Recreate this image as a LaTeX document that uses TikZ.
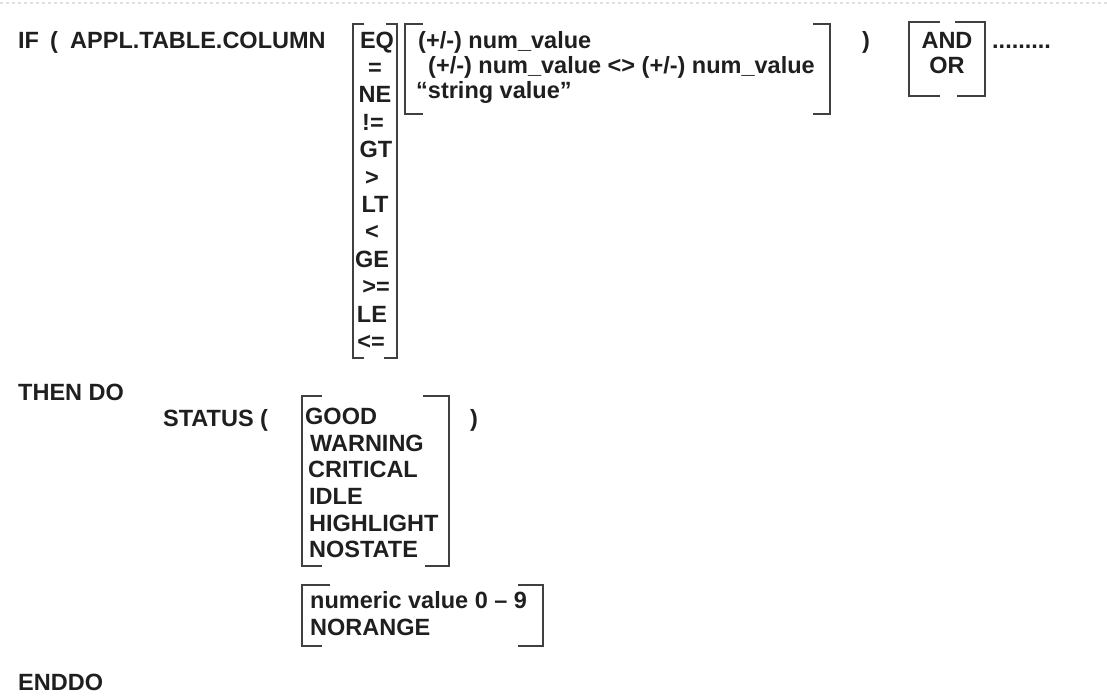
\documentclass[tikz,border=0pt]{standalone}
\usepackage{fontspec}
\setmainfont{Liberation Sans}
\usepackage{tikz}

\begin{document}
\begin{tikzpicture}[
    x=1pt, y=-1pt,
    word/.style={anchor=base west, inner sep=0pt, font=\fontsize{23.5}{27}\selectfont\bfseries, text=black!88},
    choice/.style={word, anchor=base},
    bracket/.style={line width=1.8pt, black!75}
]
    \useasboundingbox (0,0) rectangle (1107,699);
    % faint rule along the top edge
    \draw[black!12, dashed, line width=1.5pt] (0,3) -- (1107,3);

    % IF line
    \node[word] (if) at (18, 48) {IF};
    \node[word] (lpar) at (50, 48) {(};
    \node[word] (column) at (70, 48) {APPL.TABLE.COLUMN};

    % operators
    \draw[bracket] (364,24) -- (353,24) -- (353,358) -- (364,358);
    \draw[bracket] (386,24) -- (397,24) -- (397,358) -- (384,358);
    \node[choice] (eq) at (377, 48) {EQ};
    \node[choice] (eqs) at (375, 75.4) {=};
    \node[choice] (ne) at (375, 102.8) {NE};
    \node[choice] (nes) at (373, 130.2) {!=};
    \node[choice] (gt) at (376, 157.6) {GT};
    \node[choice] (gts) at (372, 185) {>};
    \node[choice] (lt) at (375, 212.4) {LT};
    \node[choice] (lts) at (372, 239.8) {<};
    \node[choice] (ge) at (372, 267.2) {GE};
    \node[choice] (ges) at (376, 294.6) {>=};
    \node[choice] (le) at (372, 322) {LE};
    \node[choice] (les) at (371, 349.4) {<=};

    % values
    \draw[bracket] (423,24) -- (405,24) -- (405,114) -- (423,114);
    \draw[bracket] (813,24) -- (830,24) -- (830,114) -- (813,114);
    \node[word] (num) at (418, 48) {(+/-) num\_value};
    \node[word] (range) at (428, 73) {(+/-) num\_value <> (+/-) num\_value};
    \node[word] (str) at (416, 98) {“string value”};
    \node[word] (rpar) at (862, 48) {)};

    % AND / OR
    \draw[bracket] (940,22) -- (909,22) -- (909,96) -- (940,96);
    \draw[bracket] (955,22) -- (985,22) -- (985,96) -- (957,96);
    \node[choice] (and) at (947, 48) {AND};
    \node[choice] (or) at (947, 73) {OR};
    \node[word] (more) at (992, 48) {.........};

    % THEN DO block
    \node[word] (then) at (18, 400) {THEN DO};
    \node[word] (status) at (163, 426) {STATUS (};
    \draw[bracket] (322,396) -- (302,396) -- (302,566) -- (322,566);
    \draw[bracket] (423,396) -- (449,396) -- (449,566) -- (425,566);
    \node[word] (good) at (305, 424) {GOOD};
    \node[word] (warn) at (310, 451) {WARNING};
    \node[word] (crit) at (308, 477.5) {CRITICAL};
    \node[word] (idle) at (309, 504) {IDLE};
    \node[word] (high) at (309, 531) {HIGHLIGHT};
    \node[word] (nost) at (309, 557.5) {NOSTATE};
    \node[word] (srpar) at (470, 426) {)};

    \draw[bracket] (330,585) -- (302,585) -- (302,646) -- (322,646);
    \draw[bracket] (518,585) -- (543,585) -- (543,646) -- (518,646);
    \node[word] (numeric) at (310, 608) {numeric value 0 -- 9};
    \node[word] (norange) at (310, 635) {NORANGE};

    \node[word] (enddo) at (18, 690) {ENDDO};
\end{tikzpicture}
\end{document}
